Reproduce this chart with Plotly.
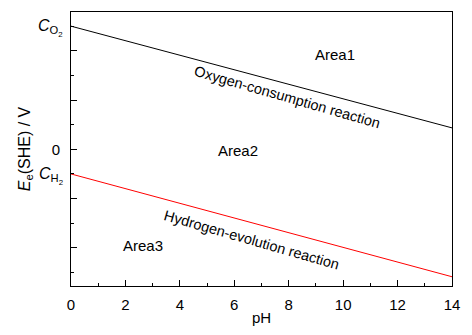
import plotly.graph_objects as go

ph = [0, 14]
e_o2 = [1.0, 0.174]
e_h2 = [-0.2, -1.035]

x_major = [0, 2, 4, 6, 8, 10, 12, 14]
y_major = [-0.8, -0.4, 0, 0.4, 0.8]
y_major_text = ["", "", "0", "", ""]

areas = [("Area1", 9.7, 0.77), ("Area2", 6.14, -0.01), ("Area3", 2.65, -0.78)]
reactions = [("Oxygen-consumption reaction", 7.94, 0.425), ("Hydrogen-evolution reaction", 6.65, -0.735)]
species = [("<i>C</i><sub>O<sub>2</sub></sub>", 1.0), ("<i>C</i><sub>H<sub>2</sub></sub>", -0.2)]

font = "Liberation Sans, Arial, sans-serif"
fig = go.Figure()
fig.add_trace(go.Scatter(x=ph, y=e_o2, mode="lines", line=dict(color="black", width=1), showlegend=False))
fig.add_trace(go.Scatter(x=ph, y=e_h2, mode="lines", line=dict(color="red", width=1), showlegend=False))

ann = []
for t, x, y in areas:
    ann.append(dict(text=t, x=x, y=y, xref="x", yref="y", showarrow=False, font=dict(size=15, color="black")))
for t, x, y in reactions:
    ann.append(dict(text=t, x=x, y=y, xref="x", yref="y", showarrow=False, textangle=16, font=dict(size=14.5, color="black")))
for t, y in species:
    ann.append(dict(text=t, x=0, y=y, xref="paper", yref="y", xanchor="right", xshift=-6, yshift=-2,
                    showarrow=False, font=dict(size=16, color="black")))

fig.update_layout(
    width=472, height=335,
    margin=dict(l=71, r=20, t=11, b=40),
    paper_bgcolor="white", plot_bgcolor="white",
    font=dict(family=font, size=15, color="black"),
    annotations=ann,
    xaxis=dict(range=[0, 14], tickvals=x_major, ticks="inside", ticklen=6, tickcolor="black",
               showline=True, linecolor="black", linewidth=1, mirror=True, showgrid=False, zeroline=False,
               minor=dict(dtick=1, tick0=1, ticks="inside", ticklen=3, tickcolor="black", showgrid=False),
               ticklabelstandoff=5,
               title=dict(text="pH", standoff=0, font=dict(size=15)), tickfont=dict(size=15)),
    yaxis=dict(range=[-1.11, 1.115], tickvals=y_major, ticktext=y_major_text, ticks="inside", ticklen=6, tickcolor="black",
               showline=True, linecolor="black", linewidth=1, mirror=True, showgrid=False, zeroline=False,
               minor=dict(dtick=0.4, tick0=0.2, ticks="inside", ticklen=3, tickcolor="black", showgrid=False),
               ticklabelstandoff=7,
               title=dict(text="<i>E</i><sub>e</sub>(SHE) / V", standoff=17, font=dict(size=16)), tickfont=dict(size=15)),
)
fig.write_html("out.html")
